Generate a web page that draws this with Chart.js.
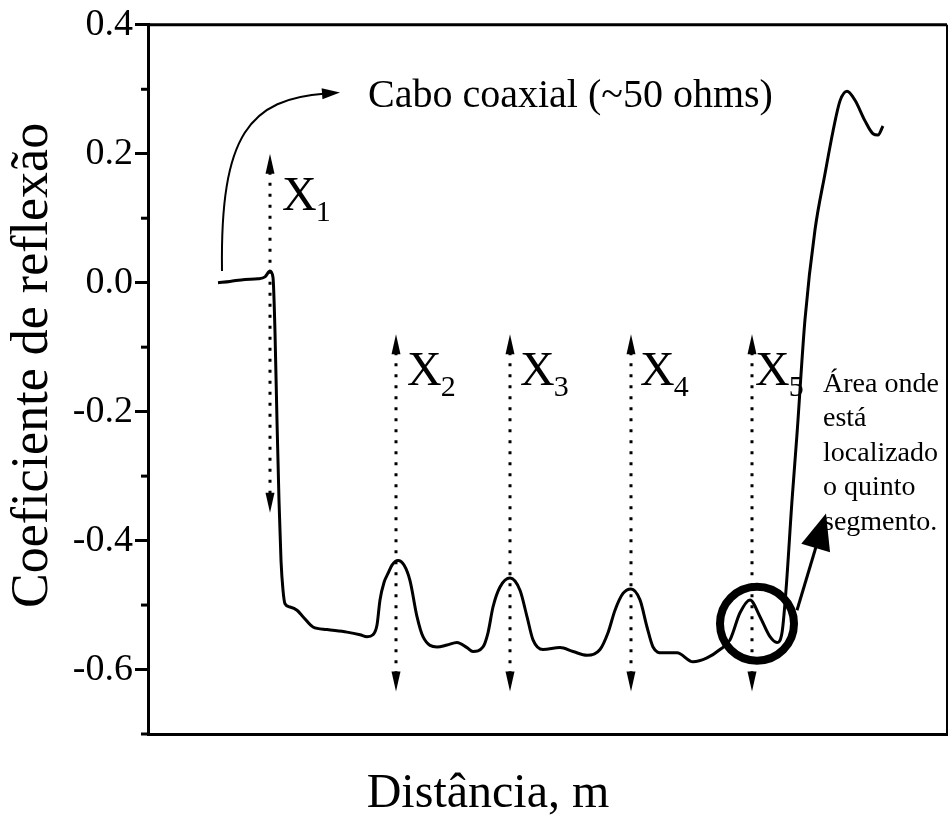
<!DOCTYPE html>
<html>
<head>
<meta charset="utf-8">
<script src="https://cdn.jsdelivr.net/npm/chart.js@4.4.0/dist/chart.umd.min.js"></script>
<style>
  html, body { margin: 0; padding: 0; background: #fff; }
</style>
</head>
<body>
<canvas id="chart" width="949" height="816"></canvas>
<script>
// distance along the line (arbitrary units, no tick labels in the original)
const distance = [
  7.0, 8.2, 9.7, 11.0, 11.7, 12.2, 12.5, 12.7, 12.9, 13.1, 13.3, 13.5, 13.7, 14.2, 14.9,
  15.5, 16.5, 17.9, 19.9, 21.2, 21.9, 22.5, 22.9, 23.2, 23.6, 24.0, 24.4, 25.0, 25.6, 26.2,
  26.9, 27.5, 28.9, 29.9, 30.9, 31.9, 32.5, 33.5, 34.0, 34.5, 35.2, 36.2, 37.2, 37.9, 38.5,
  39.5, 41.2, 42.5, 43.9, 45.2, 46.0, 46.7, 47.5, 48.3, 49.2, 49.9, 50.5, 51.4, 52.9, 54.5,
  55.9, 57.2, 58.2, 59.2, 60.2, 61.2, 62.2, 62.9, 63.4, 63.8, 64.4, 64.9, 65.7, 66.7, 67.7,
  68.5, 69.2, 69.9, 70.7, 71.7, 72.5, 73.0, 73.5
];
const reflection = [
  0.000, 0.002, 0.005, 0.006, 0.009, 0.018, 0.008, -0.077, -0.215, -0.338, -0.431, -0.477, -0.498, -0.503, -0.508,
  -0.518, -0.534, -0.538, -0.542, -0.546, -0.549, -0.546, -0.531, -0.492, -0.465, -0.451, -0.438, -0.431, -0.438, -0.462,
  -0.518, -0.549, -0.565, -0.562, -0.558, -0.566, -0.572, -0.565, -0.543, -0.503, -0.472, -0.458, -0.477, -0.518, -0.554,
  -0.569, -0.566, -0.572, -0.578, -0.569, -0.543, -0.508, -0.482, -0.475, -0.492, -0.534, -0.565, -0.574, -0.574, -0.588,
  -0.582, -0.569, -0.554, -0.512, -0.492, -0.518, -0.549, -0.558, -0.543, -0.477, -0.338, -0.235, -0.057, 0.082, 0.169,
  0.235, 0.282, 0.297, 0.283, 0.251, 0.231, 0.229, 0.243
];

// segment markers X1..X5
const markerX = [12.2, 24.8, 36.2, 48.3, 60.4];
const markerSub = ["1", "2", "3", "4", "5"];
const markerTop = [0.2, -0.08, -0.08, -0.08, -0.08];
const markerBottom = [-0.357, -0.634, -0.634, -0.634, -0.634];
const markerLabelY = [0.112, -0.158, -0.158, -0.158, -0.158];

const yMin = -0.7;
const yMax = 0.4;
const xMax = 79.9;

const xTitle = "Distância, m";
const yTitle = "Coeficiente de reflexão";
const noteLines = ["Área onde", "está", "localizado", "o quinto", "segmento."];
const cableText = "Cabo coaxial (~50 ohms)";

const SERIF = "'Liberation Serif', 'Times New Roman', serif";

const isMajor = (v) => Math.round(v * 10) % 2 === 0;

const arrowHead = (ctx, x, y, angle, len, half) => {
  ctx.save();
  ctx.translate(x, y);
  ctx.rotate(angle);
  ctx.beginPath();
  ctx.moveTo(0, 0);
  ctx.lineTo(-len, -half);
  ctx.lineTo(-len, half);
  ctx.closePath();
  ctx.fill();
  ctx.restore();
};

const annotations = {
  id: "annotations",
  afterDraw(chart) {
    const { ctx, chartArea, scales } = chart;
    const xs = scales.x;
    const ys = scales.y;
    const px = (v) => xs.getPixelForValue(v);
    const py = (v) => ys.getPixelForValue(v);

    ctx.save();
    ctx.fillStyle = "#000";
    ctx.strokeStyle = "#000";

    // top and right frame
    ctx.lineWidth = 3;
    ctx.beginPath();
    ctx.moveTo(chartArea.left, chartArea.top);
    ctx.lineTo(chartArea.right, chartArea.top);
    ctx.stroke();
    ctx.lineWidth = 2;
    ctx.beginPath();
    ctx.moveTo(chartArea.right, chartArea.top);
    ctx.lineTo(chartArea.right, chartArea.bottom + 1);
    ctx.stroke();

    // minor ticks on y axis
    ctx.lineWidth = 3;
    ys.ticks.forEach((t) => {
      if (isMajor(t.value)) return;
      const y = py(t.value);
      ctx.beginPath();
      ctx.moveTo(chartArea.left - 7, y);
      ctx.lineTo(chartArea.left, y);
      ctx.stroke();
    });

    // axis titles (the original's x title sits left of centre)
    ctx.font = "48px " + SERIF;
    ctx.textAlign = "center";
    ctx.textBaseline = "alphabetic";
    ctx.fillText(xTitle, chartArea.left + 340, chartArea.bottom + 73);
    ctx.save();
    ctx.font = "52px " + SERIF;
    ctx.translate(47, (chartArea.top + chartArea.bottom) / 2 - 14);
    ctx.rotate(-Math.PI / 2);
    ctx.fillText(yTitle, 0, 0);
    ctx.restore();
    ctx.textAlign = "left";

    // dotted double arrows + X labels
    const labelDx = [12, 11, 10, 9, 3];
    markerX.forEach((mx, i) => {
      const x = px(mx);
      const yt = py(markerTop[i]);
      const yb = py(markerBottom[i]);
      ctx.save();
      ctx.lineWidth = 3;
      ctx.setLineDash([3, 8]);
      ctx.beginPath();
      ctx.moveTo(x, yt + 18);
      ctx.lineTo(x, yb - 18);
      ctx.stroke();
      ctx.restore();
      arrowHead(ctx, x, yt, -Math.PI / 2, 20, 4.5);
      arrowHead(ctx, x, yb, Math.PI / 2, 20, 4.5);

      const lx = x + labelDx[i];
      const ly = py(markerLabelY[i]);
      ctx.font = "48px " + SERIF;
      ctx.fillText("X", lx, ly);
      const w = ctx.measureText("X").width;
      ctx.font = "30px " + SERIF;
      ctx.fillText(markerSub[i], lx + w - 1, ly + 11);
    });

    // curved arrow pointing at the cable text
    ctx.lineWidth = 2;
    const c0 = [px(7.4), py(0.018)];
    const c1 = [px(7.2), py(0.231)];
    const c2 = [px(10.2), py(0.285)];
    const c3 = [px(19.2), py(0.295)];
    ctx.beginPath();
    ctx.moveTo(c0[0], c0[1]);
    ctx.bezierCurveTo(c1[0], c1[1], c2[0], c2[1], c3[0] - 14, c3[1] + 1);
    ctx.stroke();
    arrowHead(ctx, c3[0], c3[1], Math.atan2(c3[1] - c2[1], c3[0] - c2[0]), 18, 5.5);

    ctx.font = "40px " + SERIF;
    ctx.fillText(cableText, px(22.0), py(0.272));

    // circle around the fifth segment
    ctx.lineWidth = 8;
    ctx.beginPath();
    ctx.arc(px(60.9), py(-0.529), 37, 0, Math.PI * 2);
    ctx.stroke();

    // arrow from circle to note
    const a0 = [px(64.9), py(-0.508)];
    const a1 = [px(67.8), py(-0.358)];
    const ang = Math.atan2(a1[1] - a0[1], a1[0] - a0[0]);
    ctx.lineWidth = 3;
    ctx.beginPath();
    ctx.moveTo(a0[0], a0[1]);
    ctx.lineTo(a1[0] - Math.cos(ang) * 30, a1[1] - Math.sin(ang) * 30);
    ctx.stroke();
    arrowHead(ctx, a1[0], a1[1], ang, 36, 15);

    ctx.font = "28px " + SERIF;
    noteLines.forEach((line, i) => {
      ctx.fillText(line, px(67.5), py(-0.169) + i * 34.5);
    });

    ctx.restore();
  },
};

const ctx = document.getElementById("chart").getContext("2d");

new Chart(ctx, {
  type: "line",
  data: {
    datasets: [
      {
        data: distance.map((d, i) => ({ x: d, y: reflection[i] })),
        borderColor: "#000",
        borderWidth: 3,
        pointRadius: 0,
        fill: false,
        tension: 0.4,
        cubicInterpolationMode: "monotone",
      },
    ],
  },
  options: {
    responsive: false,
    animation: false,
    layout: { padding: { top: 20, right: 2, left: 0, bottom: 0 } },
    plugins: {
      legend: { display: false },
      tooltip: { enabled: false },
    },
    scales: {
      x: {
        type: "linear",
        min: 0,
        max: xMax,
        ticks: { display: false },
        grid: { display: false },
        border: { display: true, color: "#000", width: 3 },
        afterFit: (scale) => {
          scale.height = 82;
        },
      },
      y: {
        min: yMin,
        max: yMax,
        ticks: {
          stepSize: 0.1,
          color: "#000",
          padding: 2,
          font: { family: SERIF, size: 38 },
          callback: (v) => (isMajor(v) ? (Math.round(v * 10) / 10).toFixed(1) : ""),
        },
        grid: {
          drawOnChartArea: false,
          tickLength: 13,
          tickWidth: 3,
          tickColor: (c) => (c.tick && isMajor(c.tick.value) ? "#000" : "rgba(0,0,0,0)"),
        },
        border: { display: true, color: "#000", width: 3 },
        afterFit: (scale) => {
          scale.width = 148;
        },
      },
    },
  },
  plugins: [annotations],
});
</script>
</body>
</html>
